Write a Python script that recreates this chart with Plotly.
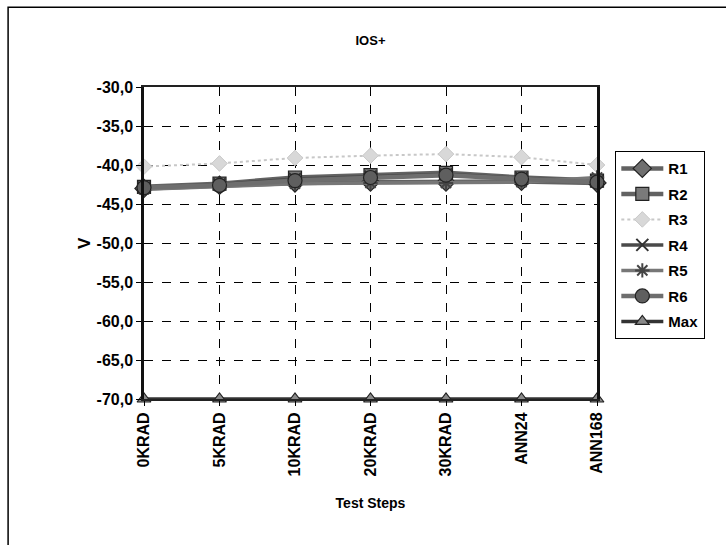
import plotly.graph_objects as go

# Test steps and measured IOS+ voltages (V)
steps = ["0KRAD", "5KRAD", "10KRAD", "20KRAD", "30KRAD", "ANN24", "ANN168"]
r1 = [-43.0, -42.6, -42.3, -42.2, -42.2, -42.1, -42.3]
r2 = [-42.8, -42.4, -41.6, -41.3, -41.0, -41.6, -42.0]
r3 = [-40.2, -39.8, -39.1, -38.8, -38.6, -39.0, -40.0]
r4 = [-42.9, -42.5, -41.8, -41.5, -41.2, -41.7, -42.1]
r5 = [-43.1, -42.7, -42.4, -42.3, -42.3, -42.2, -41.6]
r6 = [-42.9, -42.6, -42.0, -41.6, -41.3, -41.8, -42.2]
vmax = [-70.0, -70.0, -70.0, -70.0, -70.0, -70.0, -70.0]

y_ticks = [-30, -35, -40, -45, -50, -55, -60, -65, -70]
y_ticktext = [f"{v:.1f}".replace(".", ",") for v in y_ticks]

FONT = "Liberation Sans, Arial, sans-serif"

series = [
    ("R1", r1, dict(symbol="diamond", size=14, color="#6f6f6f", line=dict(color="#222", width=1.2)), dict(color="#626262", width=4.5)),
    ("R2", r2, dict(symbol="square", size=13, color="#7a7a7a", line=dict(color="#222", width=1.2)), dict(color="#626262", width=4.5)),
    ("R3", r3, dict(symbol="diamond", size=12, color="#d8d8d8", line=dict(color="#c8c8c8", width=1)), dict(color="#c8c8c8", width=2, dash="dot")),
    ("R4", r4, dict(symbol="x-thin-open", size=12, color="#333", line=dict(color="#333", width=2)), dict(color="#4a4a4a", width=3.5)),
    ("R5", r5, dict(symbol="asterisk-open", size=12, color="#444", line=dict(color="#444", width=2)), dict(color="#777", width=3.5)),
    ("R6", r6, dict(symbol="circle", size=14, color="#5f5f5f", line=dict(color="#222", width=1.2)), dict(color="#6e6e6e", width=4.5)),
    ("Max", vmax, dict(symbol="triangle-up", size=12, color="#8a8a8a", line=dict(color="#222", width=1.2)), dict(color="#333", width=3.5)),
]

fig = go.Figure()
for i, (name, ys, mk, ln) in enumerate(series):
    fig.add_trace(go.Scatter(
        x=steps, y=ys, name=name, mode="lines+markers",
        marker=mk, line=ln, legendgroup=f"g{i}", cliponaxis=False,
    ))

fig.update_layout(
    width=726, height=545,
    margin=dict(l=144, r=129, t=87, b=146),
    paper_bgcolor="white", plot_bgcolor="white",
    font=dict(family=FONT, size=14, color="black"),
    title=dict(text="IOS+", x=0.5, xref="paper", y=0.925, yanchor="middle",
               font=dict(family=FONT, size=13, color="black", weight="bold")),
    showlegend=True,
    legend=dict(
        x=1.04, y=0.795, xanchor="left", yanchor="top",
        bordercolor="black", borderwidth=1.2, bgcolor="white",
        font=dict(family=FONT, size=15, color="black", weight="bold"),
        itemwidth=42, tracegroupgap=3,
    ),
    xaxis=dict(
        type="category", range=[0, 6],
        showgrid=True, gridcolor="black", gridwidth=1, griddash="dash",
        showline=True, linecolor="#222", linewidth=2, mirror=True,
        ticks="outside", ticklen=5, tickcolor="black",
        tickangle=-90, tickfont=dict(family=FONT, size=16, color="black", weight="bold"),
        title=dict(text="Test Steps", standoff=23,
                   font=dict(family=FONT, size=14, color="black", weight="bold")),
        zeroline=False,
    ),
    yaxis=dict(
        range=[-70, -30], tickmode="array", tickvals=y_ticks, ticktext=y_ticktext,
        showgrid=True, gridcolor="black", gridwidth=1, griddash="dash",
        showline=True, linecolor="#111", linewidth=2.5, mirror=True,
        ticks="outside", ticklen=5, tickcolor="black",
        tickfont=dict(family=FONT, size=16, color="black", weight="bold"),
        zeroline=False,
    ),
    annotations=[
        # y-axis title, rotated like a value-axis label
        dict(text="V", xref="paper", yref="paper", x=(84 - 144) / 453, y=(399 - 243) / 312,
             showarrow=False, textangle=-90, xanchor="center", yanchor="middle",
             font=dict(family=FONT, size=17, color="black", weight="bold")),
    ],
    shapes=[
        # outer chart frame
        dict(type="rect", xref="paper", yref="paper",
             x0=-0.300, x1=1.30, y0=-0.49, y1=1.256,
             line=dict(color="black", width=1.5), fillcolor="rgba(0,0,0,0)", layer="below"),
    ],
)

fig.write_html("out.html")
